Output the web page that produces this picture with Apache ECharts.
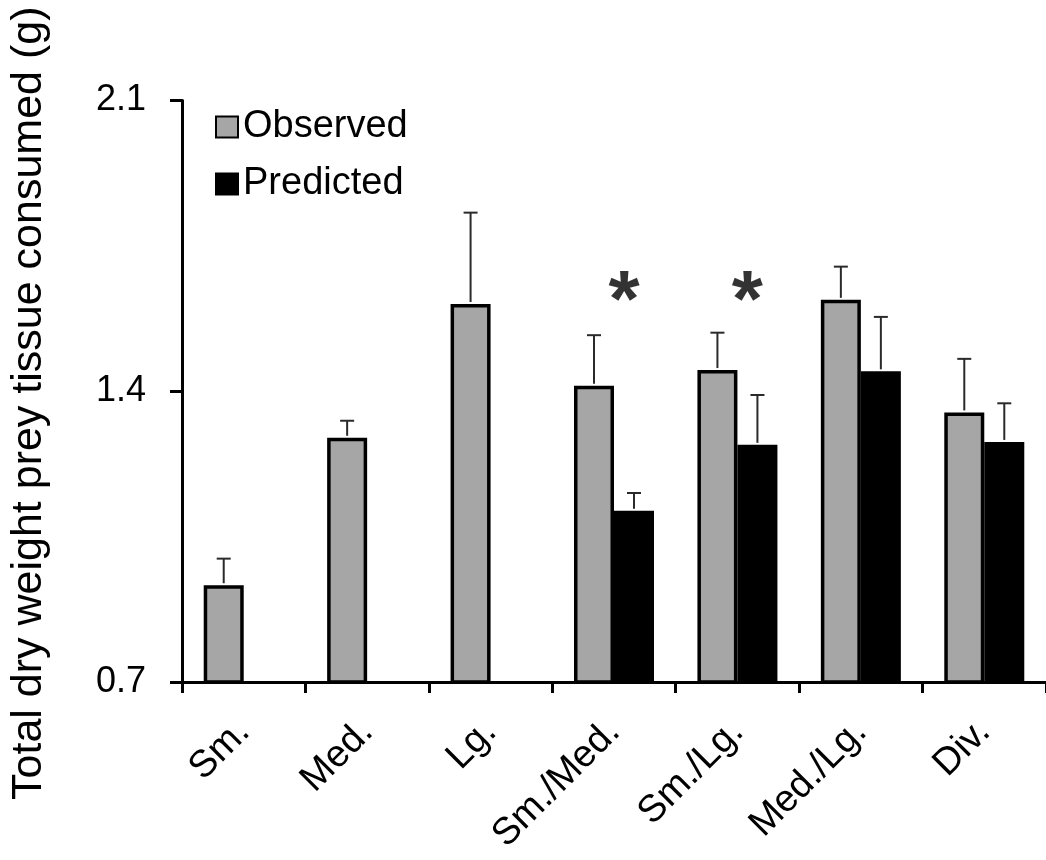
<!DOCTYPE html>
<html>
<head>
<meta charset="utf-8">
<script src="https://cdn.jsdelivr.net/npm/echarts@6/dist/echarts.min.js"></script>
<style>
  html, body { margin: 0; padding: 0; background: #fff; }
  #chart { width: 1046px; height: 860px; }
</style>
</head>
<body>
<div id="chart"></div>
<script>
// Prey size treatments
const categories = ['Sm.', 'Med.', 'Lg.', 'Sm./Med.', 'Sm./Lg.', 'Med./Lg.', 'Div.'];

// Mean total dry weight consumed (g) and standard errors
const observed    = [0.933, 1.288, 1.610, 1.413, 1.451, 1.620, 1.349];
const observedErr = [0.064, 0.041, 0.220, 0.122, 0.090, 0.080, 0.129];
const predicted    = [null, null, null, 1.112, 1.271, 1.448, 1.278];
const predictedErr = [null, null, null, 0.043, 0.120, 0.131, 0.093];

// Significant observed vs predicted differences (height of the asterisk)
const significance = [null, null, null, 1.61, 1.61, null, null];

// Y axis ticks
const yMin = 0.7, yMax = 2.1, yStep = 0.7;

const FONT = "'Liberation Sans', Arial, sans-serif";
const BAR_W = 40;
const GRAY = '#a6a6a6';

function errorData(means, errs) {
  const out = [];
  means.forEach((m, i) => {
    if (m != null && errs[i] != null) out.push([i, m, errs[i]]);
  });
  return out;
}

// Draws a one-sided error bar (stem + cap) above the left (-1) or right (+1) bar of a group
function errorRenderer(side) {
  return function (params, api) {
    const i = api.value(0);
    const base = api.coord([i, api.value(1)]);
    const top = api.coord([i, api.value(1) + api.value(2)]);
    const x = base[0] + side * BAR_W / 2;
    const style = { stroke: '#2a2a2a', lineWidth: 2 };
    return {
      type: 'group',
      children: [
        { type: 'line', shape: { x1: x, y1: base[1] - 2, x2: x, y2: top[1] }, style },
        { type: 'line', shape: { x1: x - 7, y1: top[1], x2: x + 7, y2: top[1] }, style }
      ]
    };
  };
}

const chart = echarts.init(document.getElementById('chart'), null, { renderer: 'canvas' });

chart.setOption({
  animation: false,
  backgroundColor: '#fff',
  textStyle: { fontFamily: FONT },
  grid: { left: 182, top: 100.5, width: 866.6, bottom: 178, containLabel: false },
  legend: {
    orient: 'vertical',
    left: 210,
    top: 103,
    icon: 'rect',
    itemWidth: 22,
    itemHeight: 21,
    itemGap: 19,
    data: ['Observed', 'Predicted'],
    itemStyle: { borderColor: '#000', borderWidth: 2 },
    textStyle: { fontSize: 38, color: '#000', fontFamily: FONT }
  },
  xAxis: {
    type: 'category',
    data: categories,
    boundaryGap: true,
    axisLine: { lineStyle: { color: '#000', width: 3 } },
    axisTick: { show: true, length: 11, lineStyle: { color: '#000', width: 3 } },
    axisLabel: {
      rotate: 45,
      margin: 44,
      interval: 0,
      fontSize: 38,
      color: '#000',
      fontFamily: FONT
    },
    splitLine: { show: false }
  },
  yAxis: {
    type: 'value',
    min: yMin,
    max: yMax,
    interval: yStep,
    name: 'Total dry weight prey tissue consumed (g)',
    nameLocation: 'middle',
    nameRotate: 90,
    nameGap: 131,
    nameTextStyle: { fontSize: 43, color: '#000', fontFamily: FONT, padding: [0, 24, 0, 0] },
    axisLine: { show: true, lineStyle: { color: '#000', width: 3 } },
    axisTick: { show: true, length: 12, lineStyle: { color: '#000', width: 3 } },
    axisLabel: {
      margin: 36,
      fontSize: 36,
      color: '#000',
      fontFamily: FONT,
      formatter: v => v.toFixed(1)
    },
    splitLine: { show: false }
  },
  series: [
    {
      name: 'Observed',
      type: 'bar',
      data: observed,
      barWidth: BAR_W,
      barGap: '0%',
      itemStyle: { color: GRAY, borderColor: '#000', borderWidth: 3.5 },
      z: 2
    },
    {
      name: 'Predicted',
      type: 'bar',
      data: predicted,
      barWidth: BAR_W,
      barGap: '0%',
      itemStyle: { color: '#000', borderColor: '#000', borderWidth: 3.5 },
      z: 2
    },
    {
      name: 'Observed SE',
      type: 'custom',
      renderItem: errorRenderer(-1),
      data: errorData(observed, observedErr),
      encode: { x: 0, y: 1 },
      z: 3,
      silent: true
    },
    {
      name: 'Predicted SE',
      type: 'custom',
      renderItem: errorRenderer(1),
      data: errorData(predicted, predictedErr),
      encode: { x: 0, y: 1 },
      z: 3,
      silent: true
    },
    {
      name: 'Significance',
      type: 'scatter',
      symbolSize: 0,
      data: significance.map((v, i) => (v == null ? null : [i, v])),
      label: {
        show: true,
        position: 'inside',
        offset: [10, 0],
        formatter: '*',
        fontSize: 80,
        fontWeight: 'bold',
        color: '#000',
        fontFamily: FONT
      },
      z: 4,
      silent: true
    }
  ]
});
</script>
</body>
</html>
